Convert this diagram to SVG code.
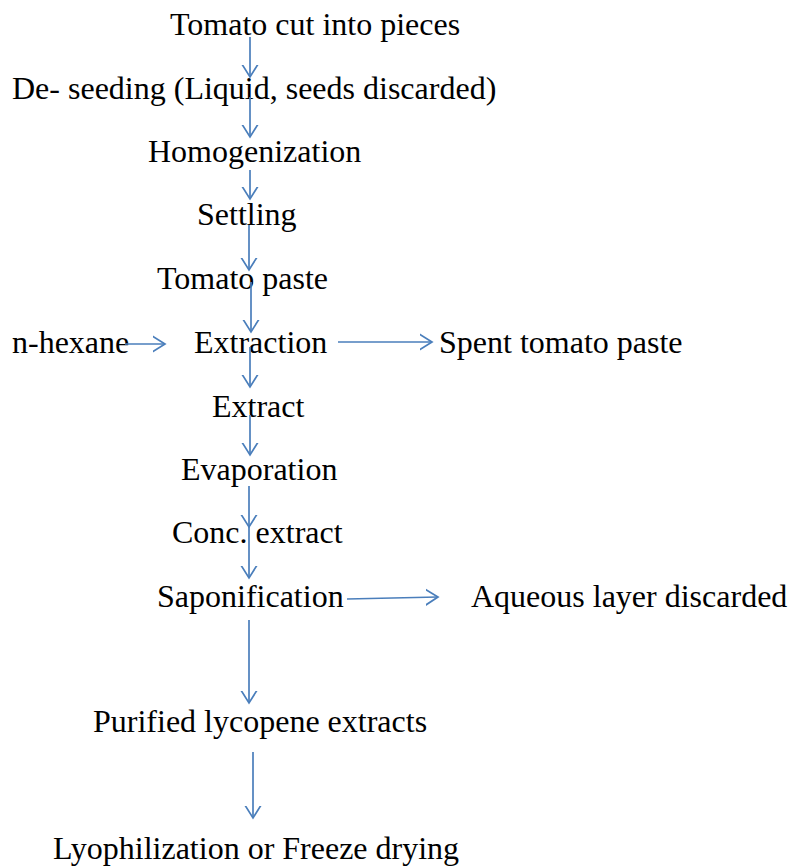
<svg xmlns="http://www.w3.org/2000/svg" width="789" height="867" viewBox="0 0 789 867">
<defs>
<style>
text{font-family:"Liberation Serif","Times New Roman",serif;font-size:32px;fill:#000}
.c line{stroke:#4a7ebb;stroke-width:1.7;fill:none}
</style>
<marker id="ah" markerWidth="24" markerHeight="24" refX="12" refY="12" orient="auto" markerUnits="userSpaceOnUse" viewBox="0 0 24 24">
<path d="M-4,2 L12,12 L-4,22" fill="none" stroke="#4a7ebb" stroke-width="1.7"/>
</marker>
</defs>
<rect width="789" height="867" fill="#fff"/>
<g id="n1"><text x="170" y="35">Tomato cut into pieces</text></g>
<g id="n2"><text x="12" y="99">De- seeding (Liquid, seeds discarded)</text></g>
<g id="n3"><text x="148" y="162">Homogenization</text></g>
<g id="n4"><text x="197" y="225">Settling</text></g>
<g id="n5"><text x="157" y="289">Tomato paste</text></g>
<g id="n6"><text x="12" y="353">n-hexane</text></g>
<g id="n7"><text x="194" y="353">Extraction</text></g>
<g id="n8"><text x="439" y="353">Spent tomato paste</text></g>
<g id="n9"><text x="212" y="417">Extract</text></g>
<g id="n10"><text x="181" y="480">Evaporation</text></g>
<g id="n11"><text x="172" y="543">Conc. extract</text></g>
<g id="n12"><text x="157" y="607">Saponification</text></g>
<g id="n13"><text x="471" y="607">Aqueous layer discarded</text></g>
<g id="n14"><text x="93" y="732">Purified lycopene extracts</text></g>
<g id="n15"><text x="53" y="859">Lyophilization or Freeze drying</text></g>
<g id="connectors" class="c">
<line x1="250" y1="37" x2="250" y2="77" marker-end="url(#ah)"/>
<line x1="250" y1="97" x2="250" y2="137" marker-end="url(#ah)"/>
<line x1="250" y1="170" x2="250" y2="199" marker-end="url(#ah)"/>
<line x1="249" y1="225" x2="249" y2="270" marker-end="url(#ah)"/>
<line x1="251" y1="282" x2="251" y2="332" marker-end="url(#ah)"/>
<line x1="125" y1="344" x2="165" y2="344" marker-end="url(#ah)"/>
<line x1="338" y1="342" x2="432" y2="342" marker-end="url(#ah)"/>
<line x1="250" y1="347" x2="250" y2="387" marker-end="url(#ah)"/>
<line x1="250" y1="415" x2="250" y2="455" marker-end="url(#ah)"/>
<line x1="249" y1="486" x2="249" y2="527" marker-end="url(#ah)"/>
<line x1="249" y1="527" x2="249" y2="578" marker-end="url(#ah)"/>
<line x1="347" y1="599" x2="438" y2="597" marker-end="url(#ah)"/>
<line x1="249" y1="620" x2="249" y2="703" marker-end="url(#ah)"/>
<line x1="253" y1="752" x2="253" y2="818" marker-end="url(#ah)"/>
</g>
</svg>
